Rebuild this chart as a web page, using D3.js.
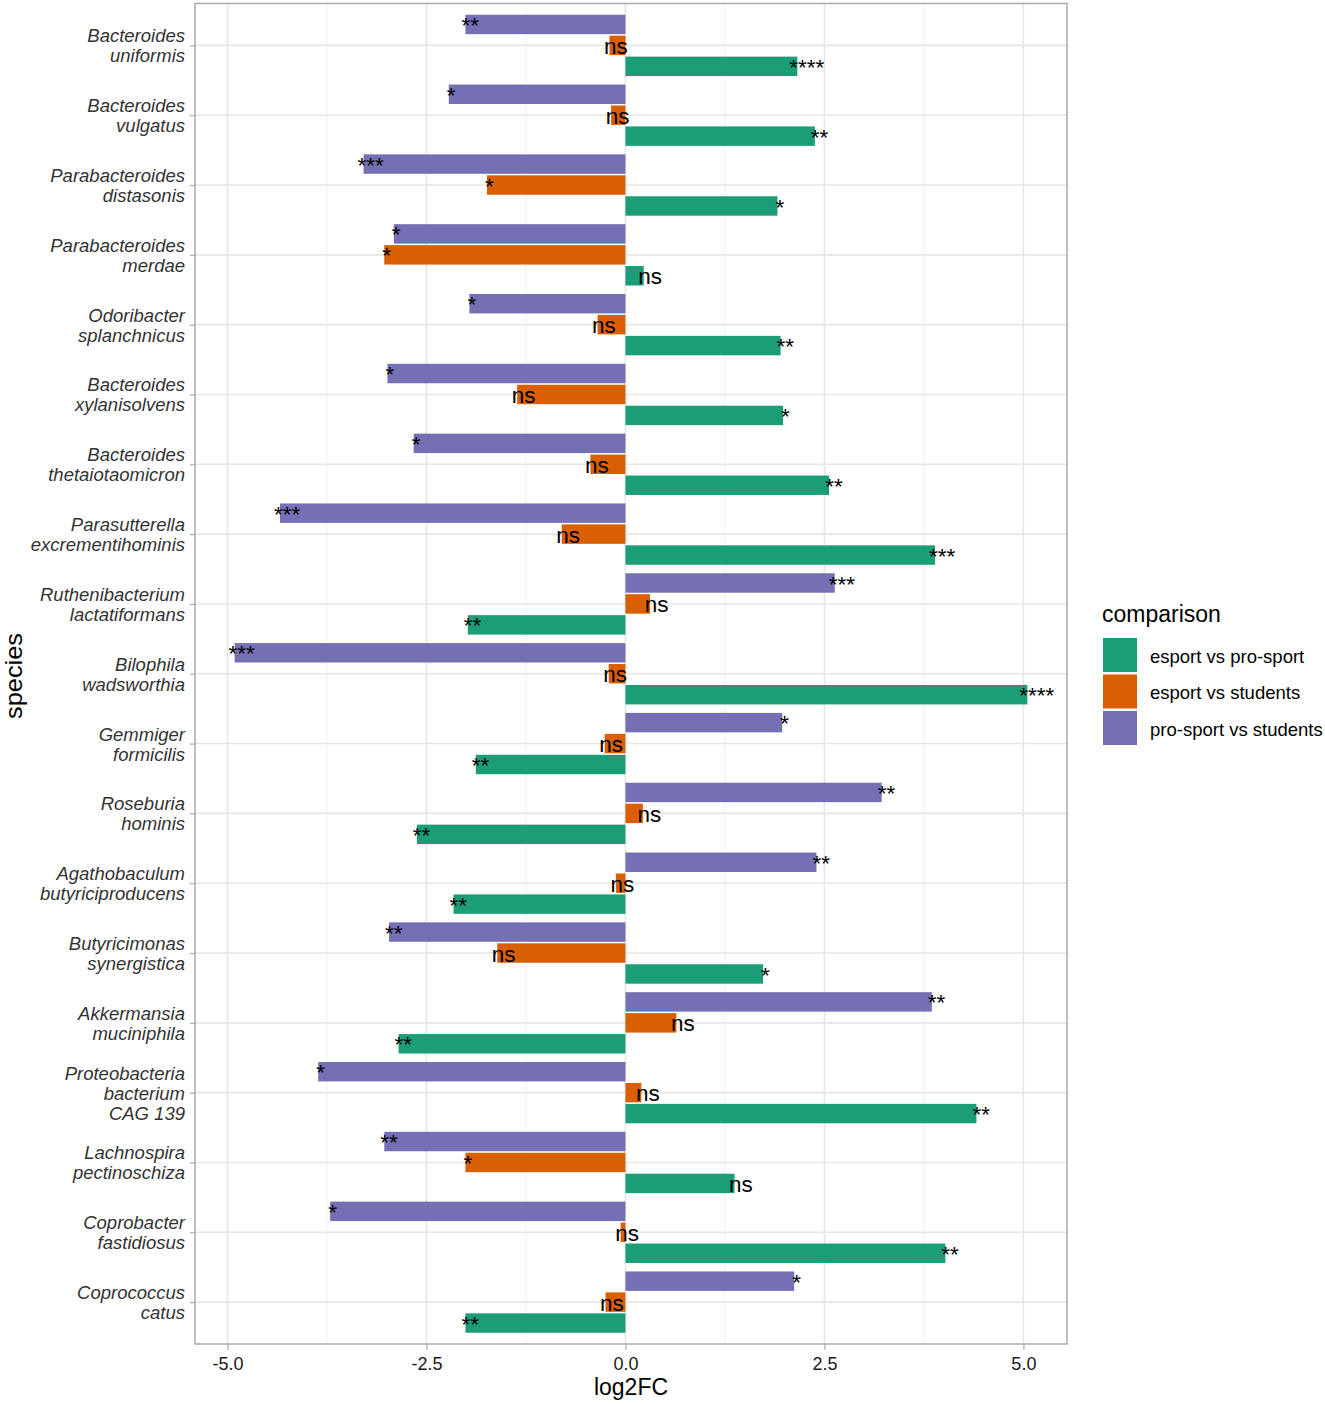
<!DOCTYPE html>
<html>
<head>
<meta charset="utf-8">
<script src="https://cdn.jsdelivr.net/npm/d3@7"></script>
<style>
  body { margin: 0; background: #fff; }
  text { font-family: "Liberation Sans", Arial, sans-serif; }
</style>
</head>
<body>
<svg id="chart" width="1325" height="1404"></svg>
<script>
// species, top to bottom
const species = [
    "Bacteroides\nuniformis", "Bacteroides\nvulgatus", "Parabacteroides\ndistasonis",
    "Parabacteroides\nmerdae", "Odoribacter\nsplanchnicus", "Bacteroides\nxylanisolvens",
    "Bacteroides\nthetaiotaomicron", "Parasutterella\nexcrementihominis",
    "Ruthenibacterium\nlactatiformans", "Bilophila\nwadsworthia", "Gemmiger\nformicilis",
    "Roseburia\nhominis", "Agathobaculum\nbutyriciproducens", "Butyricimonas\nsynergistica",
    "Akkermansia\nmuciniphila", "Proteobacteria\nbacterium\nCAG 139",
    "Lachnospira\npectinoschiza", "Coprobacter\nfastidiosus", "Coprococcus\ncatus"
];

const comparisons = ["esport vs pro-sport", "esport vs students", "pro-sport vs students"];
const colors = ["#1B9E77", "#D95F02", "#7570B3"];

// log2FC per comparison
const esportVsProSport = [2.16, 2.38, 1.91, 0.23, 1.95, 1.98, 2.56, 3.89, -1.98, 5.05,
    -1.88, -2.62, -2.16, 1.73, -2.85, 4.41, 1.37, 4.02, -2.01];
const esportVsStudents = [-0.20, -0.18, -1.74, -3.03, -0.35, -1.36, -0.44, -0.80, 0.31, -0.21,
    -0.26, 0.22, -0.12, -1.61, 0.64, 0.20, -2.01, -0.06, -0.25];
const proSportVsStudents = [-2.01, -2.22, -3.29, -2.91, -1.96, -2.99, -2.66, -4.34, 2.63, -4.91,
    1.97, 3.22, 2.40, -2.97, 3.85, -3.86, -3.03, -3.71, 2.12];

// significance labels
const sigProSport = ["****", "**", "*", "ns", "**", "*", "**", "***", "**", "****",
    "**", "**", "**", "*", "**", "**", "ns", "**", "**"];
const sigStudents = ["ns", "ns", "*", "*", "ns", "ns", "ns", "ns", "ns", "ns",
    "ns", "ns", "ns", "ns", "ns", "ns", "*", "ns", "ns"];
const sigProStudents = ["**", "*", "***", "*", "*", "*", "*", "***", "***", "***",
    "*", "**", "**", "**", "**", "*", "**", "*", "*"];

const xTicks = [-5, -2.5, 0, 2.5, 5];
const xMinor = [-3.75, -1.25, 1.25, 3.75];

const seriesValues = [esportVsProSport, esportVsStudents, proSportVsStudents];
const seriesSig = [sigProSport, sigStudents, sigProStudents];

const rows = [];
species.forEach(function(s, i) {
    comparisons.forEach(function(c, j) {
        rows.push({species: s, comparison: c, value: seriesValues[j][i], sig: seriesSig[j][i]});
    });
});

const panel = {left: 195, right: 1067, top: 3.5, bottom: 1344};
const svg = d3.select("#chart");

// x: data range plus 5% each side
const ext = d3.extent(rows, d => d.value);
const pad = (ext[1] - ext[0]) * 0.05;
const x = d3.scaleLinear().domain([ext[0] - pad, ext[1] + pad]).range([panel.left, panel.right]);

const y = d3.scalePoint().domain(species).range([panel.top, panel.bottom]).padding(0.6);
const step = y.step();

// purple on top, green at the bottom
const inner = d3.scaleBand()
    .domain(["pro-sport vs students", "esport vs students", "esport vs pro-sport"])
    .range([-0.45 * step, 0.45 * step]);
const color = d3.scaleOrdinal().domain(comparisons).range(colors);

// grid
const grid = svg.append("g");
grid.selectAll("line.minor").data(xMinor).join("line")
    .attr("x1", d => x(d)).attr("x2", d => x(d))
    .attr("y1", panel.top).attr("y2", panel.bottom)
    .attr("stroke", "#EBEBEB").attr("stroke-width", 0.8);
grid.selectAll("line.majx").data(xTicks).join("line")
    .attr("x1", d => x(d)).attr("x2", d => x(d))
    .attr("y1", panel.top).attr("y2", panel.bottom)
    .attr("stroke", "#E6E6E6").attr("stroke-width", 1.6);
grid.selectAll("line.majy").data(species).join("line")
    .attr("x1", panel.left).attr("x2", panel.right)
    .attr("y1", d => y(d)).attr("y2", d => y(d))
    .attr("stroke", "#E6E6E6").attr("stroke-width", 1.6);

// bars
svg.append("g").selectAll("rect").data(rows).join("rect")
    .attr("x", d => Math.min(x(0), x(d.value)))
    .attr("width", d => Math.abs(x(d.value) - x(0)))
    .attr("y", d => y(d.species) + inner(d.comparison) + 0.75)
    .attr("height", inner.bandwidth() - 1.5)
    .attr("fill", d => color(d.comparison));

// significance labels, hjust ~0.23 at the bar end
svg.append("g").selectAll("text").data(rows).join("text")
    .attr("y", d => y(d.species) + inner(d.comparison) + inner.bandwidth() / 2)
    .attr("dy", "0.38em")
    .attr("font-size", 22.5)
    .attr("fill", "#000")
    .text(d => d.sig)
    .attr("x", function(d) { return x(d.value) - 0.23 * this.getComputedTextLength(); });

// panel border
svg.append("rect")
    .attr("x", panel.left).attr("y", panel.top)
    .attr("width", panel.right - panel.left).attr("height", panel.bottom - panel.top)
    .attr("fill", "none").attr("stroke", "#AAAAAA").attr("stroke-width", 1.5);

// x axis
const gx = svg.append("g")
    .attr("transform", "translate(0," + panel.bottom + ")")
    .call(d3.axisBottom(x).tickValues(xTicks).tickSize(6).tickFormat(d => d.toFixed(1)));
gx.select(".domain").remove();
gx.selectAll(".tick line").attr("stroke", "#AAAAAA").attr("stroke-width", 1.2);
gx.selectAll(".tick text")
    .attr("y", 26).attr("dy", null)
    .attr("font-size", 18).attr("fill", "#1a1a1a")
    .style("font-family", "'Liberation Sans', Arial, sans-serif");

// y axis
const gy = svg.append("g")
    .attr("transform", "translate(" + panel.left + ",0)")
    .call(d3.axisLeft(y).tickSize(5));
gy.select(".domain").remove();
gy.selectAll(".tick line").attr("stroke", "#AAAAAA").attr("stroke-width", 1.2);
gy.selectAll(".tick text").each(function(d) {
    const t = d3.select(this);
    const lines = d.split("\n");
    t.text(null).attr("x", null).attr("dy", null)
        .attr("font-size", 18.5).attr("font-style", "italic").attr("fill", "#333")
        .attr("text-anchor", "end")
        .style("font-family", "'Liberation Sans', Arial, sans-serif");
    lines.forEach(function(l, k) {
        t.append("tspan").attr("x", -10)
            .attr("y", (k - (lines.length - 1) / 2) * 20 + 6.5)
            .text(l);
    });
});

// axis titles
svg.append("text")
    .attr("x", (panel.left + panel.right) / 2).attr("y", 1395)
    .attr("text-anchor", "middle").attr("font-size", 23).attr("fill", "#000")
    .text("log2FC");
svg.append("text")
    .attr("transform", "translate(22,676) rotate(-90)")
    .attr("text-anchor", "middle").attr("font-size", 24).attr("fill", "#000")
    .attr("textLength", 86).attr("lengthAdjust", "spacingAndGlyphs")
    .text("species");

// legend
const legend = svg.append("g").attr("transform", "translate(1103,638)");
legend.append("text")
    .attr("x", -1).attr("y", -16)
    .attr("font-size", 23).attr("fill", "#000")
    .text("comparison");
const item = legend.selectAll("g.item").data(comparisons).join("g")
    .attr("transform", (d, i) => "translate(0," + i * 36.5 + ")");
item.append("rect")
    .attr("width", 34).attr("height", 34)
    .attr("fill", d => color(d));
item.append("text")
    .attr("x", 47).attr("y", 24.5)
    .attr("font-size", 18.5).attr("fill", "#000")
    .text(d => d);
</script>
</body>
</html>
